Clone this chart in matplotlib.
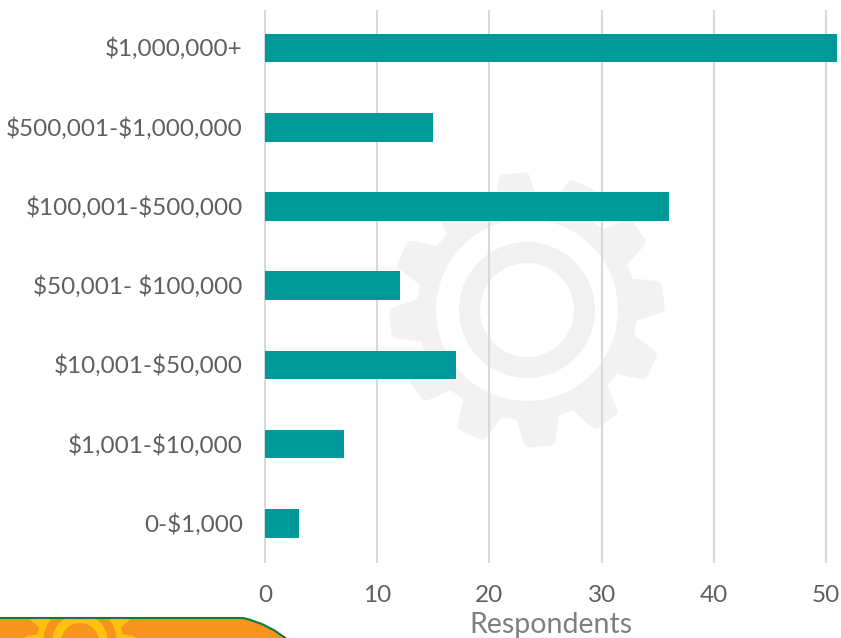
import numpy as np
import matplotlib
matplotlib.use("Agg")
import matplotlib.pyplot as plt
from matplotlib.patches import PathPatch, Circle
from matplotlib.path import Path
from matplotlib.transforms import ScaledTranslation

categories = ["0-$1,000", "$1,001-$10,000", "$10,001-$50,000", "$50,001- $100,000",
              "$100,001-$500,000", "$500,001-$1,000,000", "$1,000,000+"]
respondents = [3, 7, 17, 12, 36, 15, 51]
x_ticks = [0, 10, 20, 30, 40, 50]
x_title = "Respondents"

W, H = 841, 638
TEXT = "#5f5f5f"
plt.rcParams["font.family"] = ["Lato", "DejaVu Sans"]
plt.rcParams["text.parse_math"] = False

fig = plt.figure(figsize=(W / 100, H / 100), dpi=100, facecolor="white")

# background decoration in pixel coordinates
bg = fig.add_axes([0, 0, 1, 1], zorder=0)
bg.set_xlim(0, W)
bg.set_ylim(H, 0)
bg.axis("off")


def gear(cx, cy, r_out, r_root, start_deg, n=12):
    pts = []
    step = 360 / n
    for k in range(n):
        a = start_deg + k * step
        for off, r in [(-0.30, r_root), (-0.15, r_out), (0.15, r_out), (0.30, r_root)]:
            t = np.radians(a + off * step)
            pts.append((cx + r * np.sin(t), cy - r * np.cos(t)))
    pts.append(pts[0])
    codes = [Path.MOVETO] + [Path.LINETO] * (len(pts) - 2) + [Path.CLOSEPOLY]
    return Path(pts, codes)


gc = (527, 310)
bg.add_patch(PathPatch(gear(*gc, 132, 105, -5.6), fc="#f2f2f2", ec="#f2f2f2", lw=8, joinstyle="round"))
bg.add_patch(Circle(gc, 91, fc="white", ec="none"))
bg.add_patch(Circle(gc, 68, fc="#f1f1f1", ec="none"))
bg.add_patch(Circle(gc, 47, fc="white", ec="none"))

# orange banner with a small yellow gear
ban = Path([(-10, 618), (243, 618), (270, 624), (290, 642), (-10, 642), (-10, 618)],
           [Path.MOVETO, Path.LINETO, Path.CURVE3, Path.CURVE3, Path.LINETO, Path.CLOSEPOLY])
patch = PathPatch(ban, fc="#f7941d", ec="none")
bg.add_patch(patch)
YEL, ORG = "#ffc20e", "#f7941d"
sc = (80, 642)
parts = [PathPatch(gear(*sc, 54, 42, 0), fc=YEL, ec=YEL, lw=2, joinstyle="round"),
         Circle(sc, 37, fc=ORG, ec="none"),
         Circle(sc, 28, fc=YEL, ec="none"),
         Circle(sc, 19, fc=ORG, ec="none")]
for p in parts:
    bg.add_patch(p)
    p.set_clip_path(patch)
bg.add_patch(PathPatch(ban, fc="none", ec="#0b7a45", lw=1.5))

# chart
ax = fig.add_axes([265 / W, 1 - 563 / H, (837.3 - 265) / W, (563 - 8.4) / H], zorder=1)
ax.patch.set_alpha(0)
y = np.arange(len(categories))
ax.barh(y, respondents, height=0.36, color="#009999", edgecolor="none", zorder=3)
ax.set_xlim(0, 51)
ax.set_ylim(-0.5, len(categories) - 0.5)
ax.set_yticks(y, categories)
ax.set_xticks(x_ticks)
ax.vlines(x_ticks, 0, 0.997, transform=ax.get_xaxis_transform(), color="#d9d9d9", lw=1.5, zorder=1, clip_on=False)
for s in ax.spines.values():
    s.set_visible(False)
ax.tick_params(axis="both", length=0, labelsize=17.5, labelcolor=TEXT)
ax.tick_params(axis="y", pad=16)
ax.tick_params(axis="x", pad=16)
shift = ScaledTranslation(0, 1 / 100, fig.dpi_scale_trans)
for lab in ax.get_yticklabels():
    lab.set_transform(lab.get_transform() + shift)
ax.set_xlabel(x_title, fontsize=20.5, color="#7f7f7f", labelpad=4)

fig.savefig("out.png", dpi=100)
